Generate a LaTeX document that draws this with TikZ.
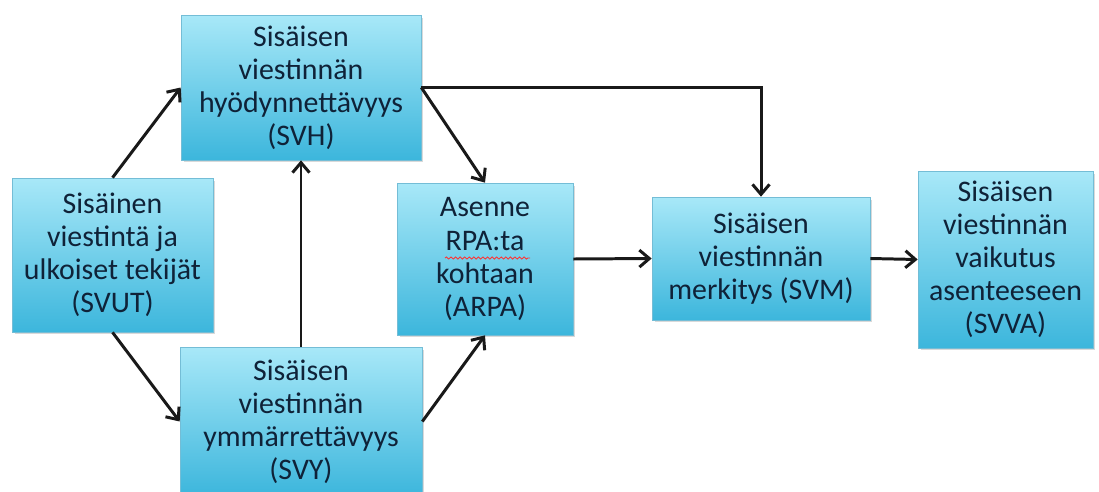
\documentclass[tikz,border=0pt]{standalone}
\usepackage{fontspec}
\setmainfont{Carlito}
\usetikzlibrary{arrows.meta,calc,positioning,shadows,decorations.pathmorphing}
\definecolor{ink}{HTML}{0F2238}
\definecolor{cyanlite}{HTML}{A8E8F8}
\definecolor{cyandark}{HTML}{3CB6DC}
\definecolor{cyanedge}{HTML}{74BDD6}

\begin{document}
\begin{tikzpicture}[x=0.02cm,y=-0.02cm,>={Straight Barb[length=0.2cm,width=0.34cm]},
    boxnode/.style={draw=cyanedge,line width=0.4pt,top color=cyanlite,bottom color=cyandark,text=ink,align=center,inner sep=0pt,font=\fontsize{17}{18.8}\selectfont,drop shadow={shadow xshift=0.05cm,shadow yshift=-0.05cm,opacity=0.3}},
    link/.style={->,line width=1.7pt,draw=black!90}]
      \useasboundingbox (0,0) rectangle (1099,491);
      \node[boxnode,minimum width=4.02cm,minimum height=3.08cm] (svut) at (112.5,255) {Sisäinen\\viestintä ja\\ulkoiset tekijät\\(SVUT)};
      \node[boxnode,minimum width=4.8cm,minimum height=2.9cm] (svh) at (301,87.5) {Sisäisen\\viestinnän\\hyödynnettävyys\\(SVH)};
      \node[boxnode,minimum width=4.84cm,minimum height=2.98cm] (svy) at (301,421.5) {Sisäisen\\viestinnän\\ymmärrettävyys\\(SVY)};
      \node[boxnode,minimum width=3.52cm,minimum height=3.04cm] (arpa) at (485,259) {Asenne\\RPA:ta\\kohtaan\\(ARPA)};
      \node[boxnode,minimum width=4.36cm,minimum height=2.46cm] (svm) at (761,258.5) {Sisäisen\\viestinnän\\merkitys (SVM)};
      \node[boxnode,minimum width=3.5cm,minimum height=3.54cm] (svva) at (1005.5,259.5) {Sisäisen\\viestinnän\\vaikutus\\asenteeseen\\(SVVA)};
      % spell-check squiggle
      \draw[red!80,line width=0.5pt,decorate,decoration={snake,amplitude=0.6pt,segment length=2.6pt}] ($(arpa.center)+(-40,-1)$) -- ++(85,0);
      \draw[link] (svut.north) -- (svh.west);
      \draw[link] (svut.south) -- (svy.west);
      \draw[link] (svy.north) -- (svh.south);
      \draw[link] (svh.east) -- (arpa.north);
      \draw[link] (svy.east) -- (arpa.south);
      \draw[link] (svh.east) -| (svm.north);
      \draw[link] (arpa.east) -- (svm.west);
      \draw[link] (svm.east) -- (svva.west);
    \end{tikzpicture}
\end{document}
